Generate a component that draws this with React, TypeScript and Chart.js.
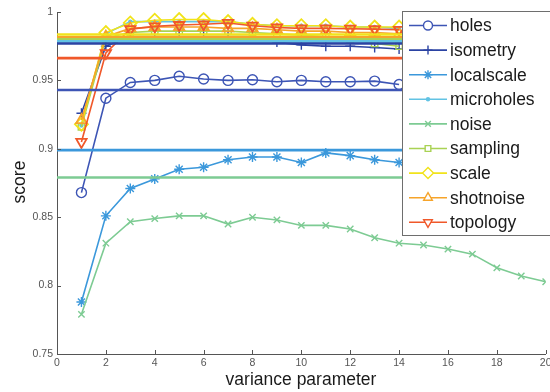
import React, { useEffect, useRef } from 'react';
import { Chart, registerables } from 'chart.js';
import { drawPoint } from 'chart.js/helpers';

Chart.register(...registerables);

const FONT = 'Liberation Sans, Arial, Helvetica, sans-serif';

const seriesNames = ['holes', 'isometry', 'localscale', 'microholes', 'noise', 'sampling', 'scale', 'shotnoise', 'topology'];
const seriesColors = ['#3d55b5', '#2b43a3', '#3b98db', '#62c3e4', '#7dcb93', '#a9d254', '#f1e31a', '#f6a42a', '#f0582a'];
const pointStyles = ['circle', 'cross', 'star', 'circle', 'crossRot', 'rect', 'rectRot', 'triangle', 'triangle'];
const pointRotations = [0, 0, 0, 0, 0, 0, 0, 0, 180];
const pointRadii = [5, 5, 5, 1.5, 4.5, 4.5, 6.5, 6, 6];
const legendRadii = [4.5, 4.5, 4.5, 1.5, 4, 4, 5.5, 5, 5];
const filledMarker = [false, false, false, true, false, false, false, false, false];

const steps = [1, 2, 3, 4, 5, 6, 7, 8, 9, 10, 11, 12, 13, 14];
const noiseSteps = [1, 2, 3, 4, 5, 6, 7, 8, 9, 10, 11, 12, 13, 14, 15, 16, 17, 18, 19, 20];

const holes = [0.868, 0.937, 0.9485, 0.950, 0.953, 0.951, 0.950, 0.9505, 0.949, 0.950, 0.949, 0.949, 0.9495, 0.947];
const isometry = [0.926, 0.975, 0.982, 0.982, 0.982, 0.982, 0.982, 0.982, 0.978, 0.976, 0.975, 0.975, 0.974, 0.973];
const localscale = [0.788, 0.851, 0.871, 0.878, 0.885, 0.8865, 0.892, 0.894, 0.894, 0.890, 0.897, 0.895, 0.892, 0.890];
const microholes = [0.917, 0.984, 0.993, 0.993, 0.993, 0.993, 0.993, 0.991, 0.990, 0.990, 0.990, 0.989, 0.989, 0.988];
const noise = [0.779, 0.831, 0.8467, 0.849, 0.851, 0.851, 0.845, 0.850, 0.848, 0.844, 0.844, 0.8414, 0.835, 0.831, 0.8297, 0.8267, 0.823, 0.813, 0.807, 0.8028];
const sampling = [0.916, 0.981, 0.985, 0.986, 0.986, 0.986, 0.986, 0.985, 0.984, 0.983, 0.982, 0.980, 0.977, 0.975];
const scale = [0.918, 0.985, 0.992, 0.994, 0.9945, 0.9945, 0.993, 0.991, 0.990, 0.990, 0.990, 0.989, 0.989, 0.989];
const shotnoise = [0.921, 0.982, 0.988, 0.989, 0.989, 0.989, 0.988, 0.988, 0.987, 0.986, 0.986, 0.985, 0.985, 0.984];
const topology = [0.905, 0.970, 0.9875, 0.9895, 0.9905, 0.991, 0.992, 0.990, 0.9887, 0.988, 0.988, 0.9878, 0.9875, 0.987];

const baselines = [0.943, 0.977, 0.899, 0.9785, 0.879, 0.980, 0.9835, 0.9815, 0.9663];

const xTickValues = [0, 2, 4, 6, 8, 10, 12, 14, 16, 18, 20];
const yTickValues = [0.75, 0.8, 0.85, 0.9, 0.95, 1];

const seriesValues = [holes, isometry, localscale, microholes, noise, sampling, scale, shotnoise, topology];

const overlayPlugin = {
  id: 'overlay',
  afterDraw(chart: any) {
    const ctx = chart.ctx;
    const area = chart.chartArea;
    const xs = chart.scales.x;
    const ys = chart.scales.y;
    ctx.save();
    ctx.strokeStyle = '#555';
    ctx.lineWidth = 1;
    ctx.beginPath();
    yTickValues.forEach((v) => {
      const py = Math.round(ys.getPixelForValue(v)) + 0.5;
      ctx.moveTo(area.left, py);
      ctx.lineTo(area.left + 4, py);
    });
    xTickValues.forEach((v) => {
      const px = Math.round(xs.getPixelForValue(v)) + 0.5;
      ctx.moveTo(px, area.bottom);
      ctx.lineTo(px, area.bottom - 4);
    });
    ctx.stroke();

    ctx.fillStyle = '#1a1a1a';
    ctx.font = `17.5px ${FONT}`;
    ctx.textAlign = 'center';
    ctx.textBaseline = 'middle';
    ctx.fillText('variance parameter', 301, 380);
    ctx.save();
    ctx.translate(20, 182);
    ctx.rotate(-Math.PI / 2);
    ctx.fillText('score', 0, 0);
    ctx.restore();

    const lx = 402.5, ly = 11.5, lw = 150, lh = 224;
    ctx.fillStyle = '#ffffff';
    ctx.fillRect(lx, ly, lw, lh);
    ctx.strokeStyle = '#6e6e6e';
    ctx.lineWidth = 1;
    ctx.strokeRect(lx, ly, lw, lh);
    ctx.textAlign = 'left';
    ctx.textBaseline = 'middle';
    seriesNames.forEach((name, i) => {
      const y = 25.5 + i * 24.6;
      ctx.strokeStyle = seriesColors[i];
      ctx.lineWidth = 1.6;
      ctx.beginPath();
      ctx.moveTo(409, y);
      ctx.lineTo(447, y);
      ctx.stroke();
      ctx.fillStyle = filledMarker[i] ? seriesColors[i] : '#ffffff';
      ctx.strokeStyle = seriesColors[i];
      ctx.lineWidth = 1.4;
      drawPoint(ctx, { pointStyle: pointStyles[i], rotation: pointRotations[i], radius: legendRadii[i], borderWidth: 1.4 }, 428, y);
      ctx.fillStyle = '#1a1a1a';
      ctx.font = `17.5px ${FONT}`;
      ctx.fillText(name, 450, y + 1);
    });
    ctx.restore();
  },
};

export default function App() {
  const ref = useRef<HTMLCanvasElement>(null);
  useEffect(() => {
    if (!ref.current) return;
    const curveSets = seriesNames.map((name, i) => {
      const xsArr = i === 4 ? noiseSteps : steps;
      return {
        label: name,
        data: seriesValues[i].map((v, k) => ({ x: xsArr[k], y: v })),
        borderColor: seriesColors[i],
        backgroundColor: seriesColors[i],
        borderWidth: 1.6,
        pointStyle: pointStyles[i],
        pointRotation: pointRotations[i],
        pointRadius: pointRadii[i],
        pointBorderWidth: i >= 6 ? 1.8 : 1.4,
        pointBorderColor: seriesColors[i],
        pointBackgroundColor: filledMarker[i] ? seriesColors[i] : 'rgba(0,0,0,0)',
        tension: 0,
        order: 1 + (seriesNames.length - 1 - i),
      };
    });
    const baseSets = seriesNames.map((name, i) => ({
      label: name + ' baseline',
      data: [{ x: 0, y: baselines[i] }, { x: 20, y: baselines[i] }],
      borderColor: seriesColors[i],
      backgroundColor: seriesColors[i],
      borderWidth: 2.6,
      pointRadius: 0,
      order: 0,
    }));
    const chart = new Chart(ref.current, {
      type: 'line',
      data: { datasets: [...baseSets, ...curveSets] as any },
      options: {
        animation: false,
        responsive: false,
        layout: { padding: { top: 12, right: 0, left: 0, bottom: 0 } },
        plugins: { legend: { display: false }, tooltip: { enabled: false } },
        scales: {
          x: {
            type: 'linear',
            min: 0,
            max: 20,
            afterBuildTicks: (s: any) => { s.ticks = xTickValues.map((v) => ({ value: v })); },
            ticks: { color: '#555', font: { size: 10.5, family: FONT }, padding: 3, maxRotation: 0, autoSkip: false, callback: (v: any) => String(v) },
            grid: { display: false, drawTicks: false },
            border: { display: true, color: '#555', width: 1 },
            afterFit: (s: any) => { s.height = 38; s.paddingLeft = 0; s.paddingRight = 0; },
          },
          y: {
            type: 'linear',
            min: 0.75,
            max: 1,
            afterBuildTicks: (s: any) => { s.ticks = yTickValues.map((v) => ({ value: v })); },
            ticks: { color: '#555', font: { size: 10.5, family: FONT }, padding: 4, autoSkip: false, callback: (v: any) => String(v) },
            grid: { display: false, drawTicks: false },
            border: { display: true, color: '#555', width: 1 },
            afterFit: (s: any) => { s.width = 57; s.paddingTop = 0; s.paddingBottom = 0; },
          },
        },
      },
      plugins: [overlayPlugin],
    });
    return () => chart.destroy();
  }, []);
  return (
    <div style={{ position: 'fixed', left: 0, top: 0, width: 550, height: 392, background: '#fff', overflow: 'hidden' }}>
      <canvas ref={ref} width={554} height={392} style={{ display: 'block' }} />
    </div>
  );
}
